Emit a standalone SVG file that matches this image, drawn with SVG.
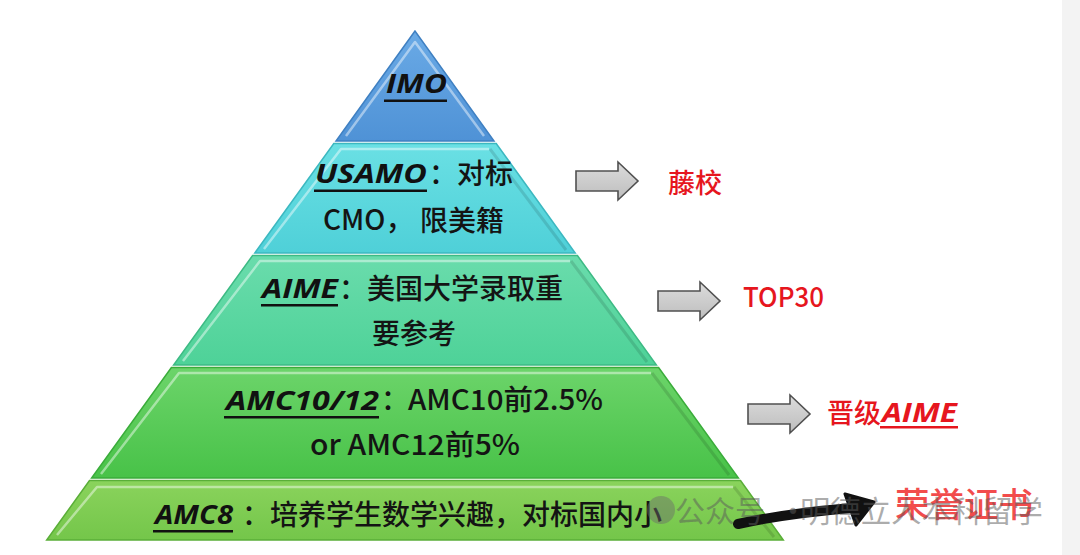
<svg xmlns="http://www.w3.org/2000/svg" width="1080" height="555" viewBox="0 0 1080 555">
  <style>
    .t { font-family: "Noto Sans CJK SC", "Noto Sans", sans-serif; font-size: 28px; font-weight: 500; fill: #141414; }
    .lbl { font-family: "Open Sans", "Noto Sans CJK SC", sans-serif; font-size: 27px; font-weight: bold; font-style: italic; fill: #111; }
    .red { font-family: "Noto Sans CJK SC", "Noto Sans", sans-serif; font-size: 27px; font-weight: 500; fill: #e6161e; }
    .redlbl { font-family: "Open Sans", "Noto Sans CJK SC", sans-serif; font-size: 27px; font-weight: bold; font-style: italic; fill: #e6161e; }
    .ul { fill: #111; }
    .hl { fill: none; stroke: #ffffff; stroke-opacity: 0.45; stroke-width: 2.5; stroke-linejoin: round; }
    .sh { fill: none; stroke: #000000; stroke-opacity: 0.12; stroke-width: 3; }
    .garrow { fill: url(#gGray); stroke: #505050; stroke-width: 1.6; stroke-linejoin: miter; }
    .wm { font-family: "Noto Sans CJK SC", sans-serif; font-size: 30px; fill: #5a5a5a; fill-opacity: 0.5; }
  </style>
  <defs>
    <linearGradient id="gBlue" x1="0" y1="0" x2="0" y2="1">
      <stop offset="0" stop-color="#6aaae6"/>
      <stop offset="1" stop-color="#4f92d6"/>
    </linearGradient>
    <linearGradient id="gCyan" x1="0" y1="0" x2="0" y2="1">
      <stop offset="0" stop-color="#6ae0e4"/>
      <stop offset="1" stop-color="#4fd0d8"/>
    </linearGradient>
    <linearGradient id="gTeal" x1="0" y1="0" x2="0" y2="1">
      <stop offset="0" stop-color="#6adcac"/>
      <stop offset="1" stop-color="#4ed298"/>
    </linearGradient>
    <linearGradient id="gGreen" x1="0" y1="0" x2="0" y2="1">
      <stop offset="0" stop-color="#6cd46a"/>
      <stop offset="1" stop-color="#48c248"/>
    </linearGradient>
    <linearGradient id="gLime" x1="0" y1="0" x2="0" y2="1">
      <stop offset="0" stop-color="#8ad35c"/>
      <stop offset="1" stop-color="#74c64a"/>
    </linearGradient>
    <linearGradient id="gGray" x1="0" y1="0" x2="0" y2="1">
      <stop offset="0" stop-color="#dcdcdc"/>
      <stop offset="1" stop-color="#bdbdbd"/>
    </linearGradient>
    <path id="blockArrow" d="M0,9 H42 V0 L62,19 L42,38 V29 H0 Z"/>
  </defs>

  <rect x="0" y="0" width="1080" height="555" fill="#ffffff"/>
  <rect x="1062" y="0" width="18" height="555" fill="#f3f3f3"/>

  <g id="tier-imo">
    <polygon points="415,31 336,141 494,141" fill="url(#gBlue)" stroke="#3f80c2" stroke-width="1.5"/>
    <polyline class="hl" points="346,136 415,42 484,136"/>
    <text class="lbl" x="386" y="93" font-size="26" textLength="61" lengthAdjust="spacingAndGlyphs">IMO</text>
    <rect class="ul" x="384" y="99.5" width="63" height="2.5"/>
  </g>

  <g id="tier-usamo">
    <polygon points="333.8,143.5 496.2,143.5 575.2,253 254.8,253" fill="url(#gCyan)" stroke="#3cb8c0" stroke-width="1.5"/>
    <polyline class="hl" points="264,249 341,149 489,149"/>
    <line class="sh" x1="490" y1="149" x2="566" y2="250"/>
    <text class="lbl" x="315" y="183" textLength="112" lengthAdjust="spacingAndGlyphs">USAMO</text>
    <rect class="ul" x="314" y="189.5" width="113" height="2.5"/>
    <text class="t" x="429" y="184">：对标</text>
    <text class="t" x="323" y="230">CMO，</text>
    <text class="t" x="420" y="231">限美籍</text>
  </g>

  <g id="tier-aime">
    <polygon points="252.6,255.5 577.4,255.5 656.4,365 173.6,365" fill="url(#gTeal)" stroke="#3dba84" stroke-width="1.5"/>
    <polyline class="hl" points="183,361 260,261 570,261"/>
    <line class="sh" x1="571" y1="261" x2="647" y2="362"/>
    <text class="lbl" x="262" y="298" textLength="76" lengthAdjust="spacingAndGlyphs">AIME</text>
    <rect class="ul" x="261" y="304" width="77" height="2.5"/>
    <text class="t" x="339" y="299" font-size="28.5">：美国大学录取重</text>
    <text class="t" x="372" y="344" font-size="28">要参考</text>
  </g>

  <g id="tier-amc1012">
    <polygon points="171.4,367.5 658.6,367.5 738.4,478 91.6,478" fill="url(#gGreen)" stroke="#3aac3a" stroke-width="1.5"/>
    <polyline class="hl" points="101,474 179,373 651,373"/>
    <line class="sh" x1="652" y1="373" x2="729" y2="475"/>
    <text class="lbl" x="226" y="410" textLength="153" lengthAdjust="spacingAndGlyphs">AMC10/12</text>
    <rect class="ul" x="224" y="416" width="155" height="2.5"/>
    <text class="t" x="381" y="410">：</text>
    <text class="t" x="408" y="410" textLength="195" lengthAdjust="spacingAndGlyphs">AMC10前2.5%</text>
    <text class="t" x="310" y="455" textLength="210" lengthAdjust="spacingAndGlyphs">or AMC12前5%</text>
  </g>

  <g id="tier-amc8">
    <polygon points="89.5,480.5 740.5,480.5 783.3,540 46.7,540" fill="url(#gLime)" stroke="#5aae38" stroke-width="1.5"/>
    <polyline class="hl" points="57,535 97,487 733,487"/>
    <line class="sh" x1="734" y1="487" x2="774" y2="537"/>
    <text class="lbl" x="155" y="524" textLength="78" lengthAdjust="spacingAndGlyphs">AMC8</text>
    <rect class="ul" x="153" y="530" width="80" height="2.5"/>
    <text class="t" x="242" y="525" font-size="28.4">：培养学生数学兴趣，对标国内小</text>
  </g>

  <g id="connectors">
    <use href="#blockArrow" class="garrow" transform="translate(576,162)"/>
    <use href="#blockArrow" class="garrow" transform="translate(658,282)"/>
    <use href="#blockArrow" class="garrow" transform="translate(748,395)"/>
    <path d="M738,524 C775,516 815,511 852,508" fill="none" stroke="#111" stroke-width="10" stroke-linecap="round"/>
    <polygon points="845,494 874,502 856,525" fill="#111" stroke="#111" stroke-width="3" stroke-linejoin="round"/>
  </g>

  <g id="result-ivy">
    <text class="red" x="668" y="193">藤校</text>
  </g>
  <g id="result-top30">
    <text class="red" x="743" y="307" font-size="28" textLength="81" lengthAdjust="spacingAndGlyphs">TOP30</text>
  </g>
  <g id="result-aime">
    <text class="red" x="827" y="423">晋级</text>
    <text class="redlbl" x="882" y="422" textLength="75" lengthAdjust="spacingAndGlyphs">AIME</text>
    <rect x="880" y="426" width="78" height="2.5" fill="#e6161e"/>
  </g>
  <g id="result-honor">
    <text x="895" y="517" font-family="Noto Sans CJK SC, sans-serif" font-size="34.5" font-weight="500" fill="#f24c4c">荣誉证书</text>
  </g>

  <g id="watermark">
    <circle cx="661" cy="510" r="14" fill="#6a6a6a" fill-opacity="0.45"/>
    <text class="wm" x="675" y="522">公众号</text>
    <text class="wm" x="778" y="522">·</text>
    <text class="wm" x="800" y="522" textLength="243" lengthAdjust="spacingAndGlyphs">明德立人本科留学</text>
  </g>
</svg>
